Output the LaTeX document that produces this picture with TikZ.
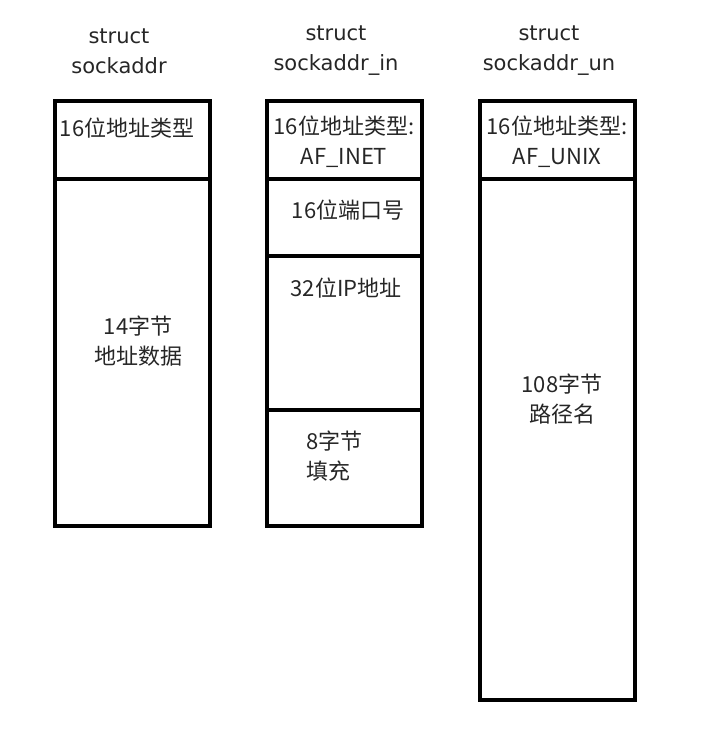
\documentclass[tikz,border=0pt]{standalone}
\usepackage{fontspec}
\setmainfont{DejaVu Sans}
\newfontfamily\cjk{Noto Sans CJK SC}
\usepackage{tikz}
\usetikzlibrary{positioning}

\tikzset{
  cell/.style={draw, line width=3.2pt, minimum width=155pt, inner sep=0pt, outer sep=0pt},
  title/.style={font=\fontsize{21}{30}\selectfont, text=black!85, align=center, inner sep=0pt},
  txt/.style={font=\cjk\fontsize{22}{30}\selectfont, text=black!85, align=center, inner sep=0pt},
}

\begin{document}
\begin{tikzpicture}[x=1pt, y=-1pt]
\useasboundingbox (0,0) rectangle (717,729);

% struct sockaddr
\node[cell, minimum height=78pt] (sa-hdr) at (132.5,140) {};
\node[cell, minimum height=347pt, below=0pt of sa-hdr] (sa-data) {};

% struct sockaddr_in
\node[cell, minimum height=78pt] (in-hdr) at (344.5,140) {};
\node[cell, minimum height=77pt, below=0pt of in-hdr] (in-port) {};
\node[cell, minimum height=154pt, below=0pt of in-port] (in-ip) {};
\node[cell, minimum height=116pt, below=0pt of in-ip] (in-pad) {};

% struct sockaddr_un
\node[cell, minimum height=78pt] (un-hdr) at (557.5,140) {};
\node[cell, minimum height=521pt, below=0pt of un-hdr] (un-path) {};

% Titles
\node[title] (sa-title) at (119,51) {struct\\sockaddr};
\node[title] (in-title) at (336,51) {struct\\sockaddr\_in};
\node[title] (un-title) at (549,51) {struct\\sockaddr\_un};

% Labels
\node[txt] (sa-type) at (127,128) {16位地址类型};
\node[txt] (sa-bytes) at (138,341) {14字节\\地址数据};
\node[txt] (in-type) at (344,142) {16位地址类型:\\AF\_INET};
\node[txt] (in-portno) at (348,210) {16位端口号};
\node[txt] (in-addr) at (346,288) {32位IP地址};
\node[txt, align=left, anchor=west] (in-fill) at (306,456) {8字节\\填充};
\node[txt] (un-type) at (557,142) {16位地址类型:\\AF\_UNIX};
\node[txt] (un-name) at (562,399) {108字节\\路径名};
\end{tikzpicture}
\end{document}
